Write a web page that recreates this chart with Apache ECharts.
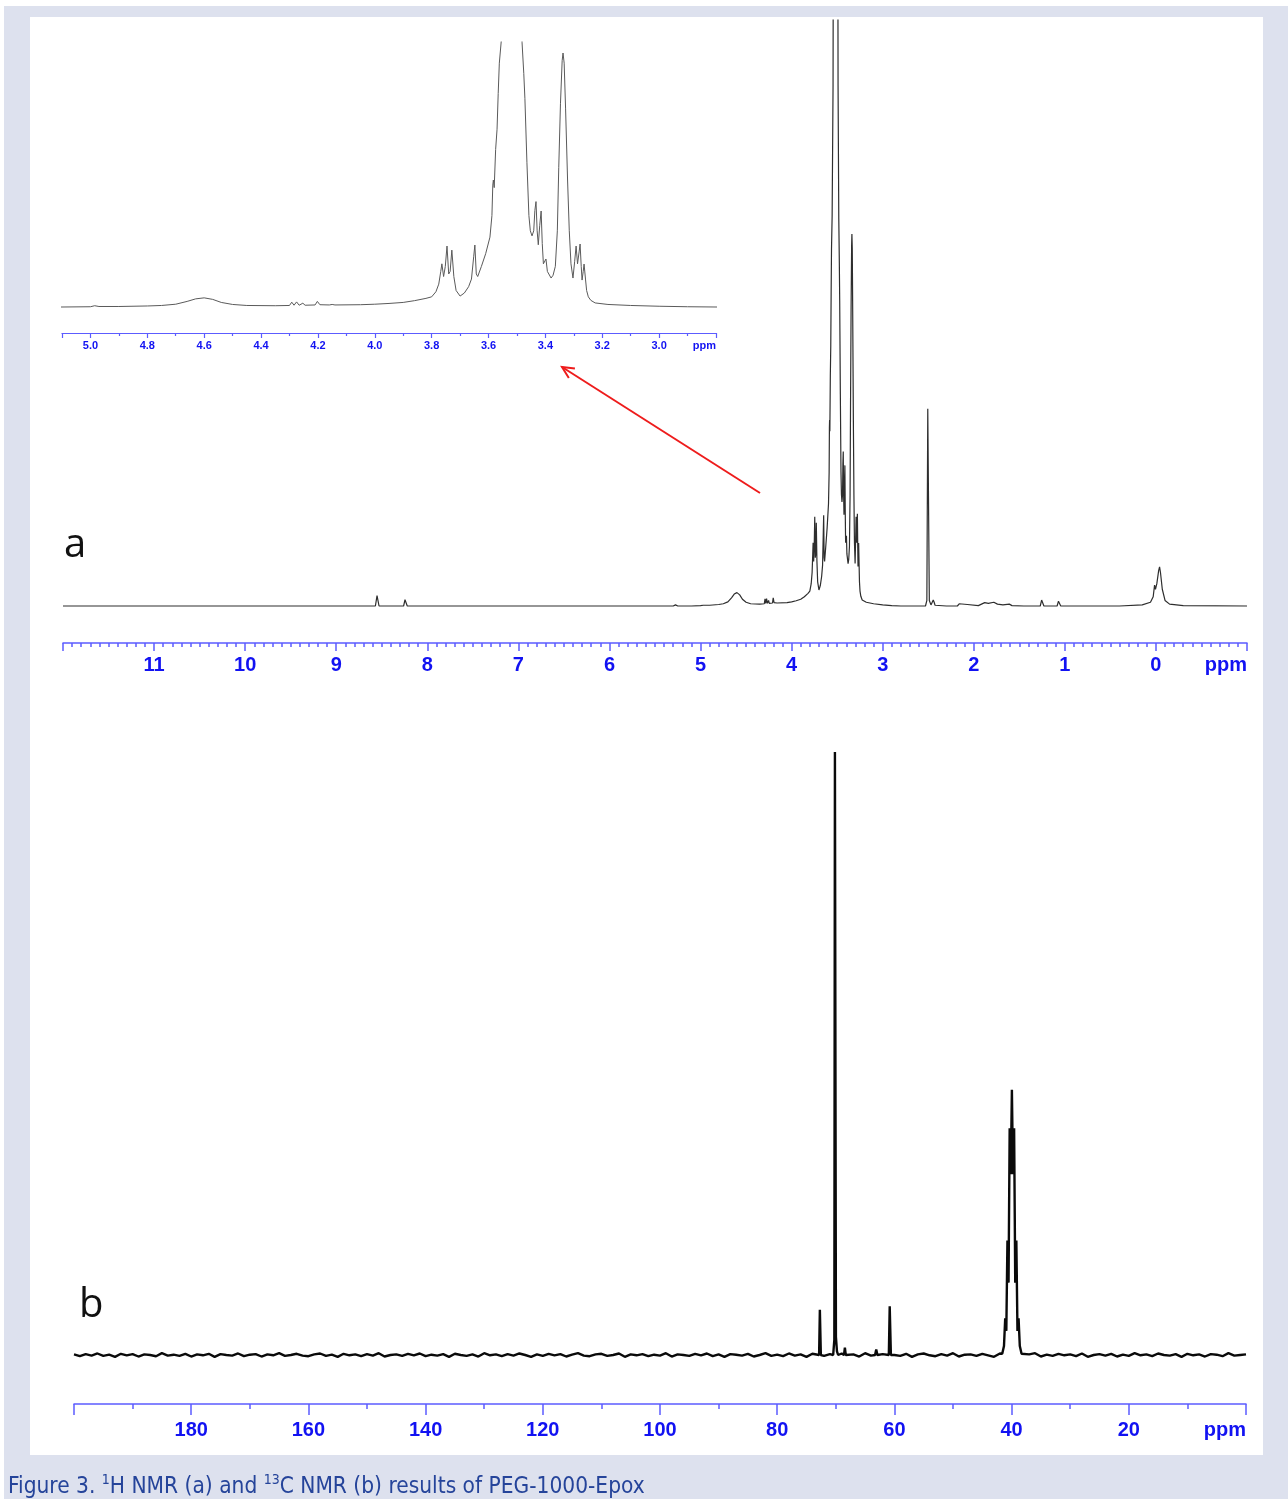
<!DOCTYPE html>
<html>
<head>
<meta charset="utf-8">
<script src="https://cdn.jsdelivr.net/npm/echarts@6/dist/echarts.min.js"></script>
<style>
  html, body { margin: 0; padding: 0; overflow: hidden; background: #ffffff; }
  #frame { position: absolute; left: 4px; top: 6px; width: 1284px; height: 1493px; background: #dde1ee; }
  #panel { position: absolute; left: 30px; top: 17px; width: 1233px; height: 1438px; background: #ffffff; }
  #chart { position: absolute; left: 0; top: 0; width: 1288px; height: 1499px; }
</style>
</head>
<body>
<div id="frame"></div>
<div id="panel"></div>
<div id="chart"></div>
<script>
// 1H spectrum, [shift ppm, relative intensity], 3.34 ppm peak = 100
const hSpectrum = [
  [12.0, 0], [10.0, 0], [9.59, 0], [9.575, 0.5], [9.56, 0],
  [8.57, 0], [8.552, 2.8], [8.545, 2.8], [8.53, 0],
  [8.26, 0], [8.245, 1.7], [8.235, 1.7], [8.22, 0],
  [7.0, 0], [5.3, 0], [5.275, 0.3], [5.25, 0],
  [5.10, 0], [5.0, 0.1], [4.985, 0.5], [4.97, 0.2], [4.90, 0.2], [4.80, 0.4], [4.75, 0.6],
  [4.70, 1.1], [4.66, 2.2], [4.63, 3.2], [4.60, 3.6], [4.57, 3.0], [4.54, 1.8], [4.50, 1.0],
  [4.45, 0.6], [4.35, 0.5],
  [4.30, 0.6], [4.292, 1.9], [4.284, 0.7], [4.275, 2.0], [4.266, 0.7], [4.253, 1.5], [4.245, 0.7],
  [4.21, 0.8], [4.202, 2.2], [4.193, 0.9], [4.16, 0.8], [4.15, 1.0], [4.14, 0.8],
  [4.05, 0.9], [4.0, 1.1], [3.95, 1.4], [3.90, 1.8], [3.86, 2.5], [3.82, 3.4], [3.80, 4.0],
  [3.785, 6.0], [3.775, 9.0], [3.768, 14], [3.764, 17], [3.758, 12], [3.752, 16], [3.746, 24],
  [3.740, 13], [3.735, 14], [3.729, 22.4], [3.722, 12], [3.714, 6.5], [3.70, 4.3], [3.685, 5.5],
  [3.67, 8], [3.66, 11], [3.652, 20], [3.648, 24.4], [3.643, 13], [3.638, 12],
  [3.625, 16], [3.61, 21], [3.595, 27.5], [3.588, 36], [3.585, 48], [3.583, 50], [3.580, 47],
  [3.575, 62], [3.570, 70], [3.566, 84], [3.562, 96], [3.555, 105], [3.545, 140], [3.535, 300],
  [3.52, 3000], [3.50, 300], [3.49, 140], [3.482, 104], [3.476, 92], [3.472, 82], [3.465, 57],
  [3.458, 36], [3.453, 30], [3.447, 28], [3.441, 30], [3.437, 38], [3.433, 41.5], [3.429, 30],
  [3.425, 24.5], [3.420, 32], [3.415, 37.8], [3.411, 25], [3.407, 17], [3.402, 17.5], [3.398, 18.9],
  [3.393, 14], [3.389, 14.5], [3.386, 14], [3.38, 11.4], [3.373, 12.5], [3.365, 16], [3.358, 30],
  [3.353, 55], [3.347, 80], [3.341, 97], [3.338, 100], [3.334, 96], [3.329, 78], [3.322, 50],
  [3.316, 30], [3.31, 17], [3.303, 11.4], [3.297, 18], [3.292, 24], [3.287, 17], [3.285, 17],
  [3.281, 22], [3.278, 24.8], [3.274, 16], [3.271, 10.6], [3.267, 14], [3.264, 16.9], [3.259, 11],
  [3.255, 6.5], [3.249, 4.0], [3.24, 2.6], [3.225, 1.6], [3.18, 1.0], [3.10, 0.6], [3.0, 0.3],
  [2.9, 0.1], [2.8, 0],
  [2.7, 0], [2.53, 0], [2.515, 1.5], [2.505, 53], [2.498, 53], [2.488, 1.5], [2.47, 0.3],
  [2.445, 1.6], [2.435, 1.0], [2.425, 0.2], [2.3, 0], [2.18, 0], [2.16, 0.6], [2.14, 0.1],
  [2.07, 0.4], [2.05, 0.1], [1.95, 0.1], [1.88, 0.9], [1.84, 0.7], [1.78, 1.0], [1.74, 0.5],
  [1.68, 0.3], [1.61, 0.5], [1.58, 0.1], [1.45, 0], [1.27, 0], [1.255, 1.6], [1.245, 1.6],
  [1.23, 0], [1.085, 0], [1.07, 1.3], [1.06, 1.2], [1.045, 0],
  [0.4, 0], [0.15, 0.3], [0.06, 1.0], [0.03, 2.5], [0.015, 5.6], [0.005, 4.5], [-0.01, 6],
  [-0.03, 9.5], [-0.04, 10.5], [-0.05, 9], [-0.07, 4.5], [-0.10, 1.5], [-0.15, 0.5],
  [-0.3, 0.1], [-1.0, 0]
];

// 13C baseline read at every 1 ppm from 200 down to 0
const cNoise = [
  0.1, -0.2, 0.15, -0.1, 0.25, -0.15, 0.05, -0.3, 0.2, -0.05,
  0.15, -0.25, 0.1, 0.0, -0.2, 0.3, -0.1, 0.05, -0.15, 0.2,
  -0.25, 0.1, -0.05, 0.2, -0.3, 0.15, 0.0, -0.1, 0.25, -0.2,
  0.05, 0.15, -0.25, 0.1, -0.05, 0.3, -0.15, 0.0, 0.2, -0.1,
  -0.2, 0.1, 0.25, -0.15, 0.05, -0.3, 0.2, -0.05, 0.1, -0.2,
  0.15, -0.1, 0.3, -0.25, 0.0, 0.1, -0.15, 0.2, -0.05, 0.25,
  -0.2, 0.05, -0.1, 0.15, -0.3, 0.2, 0.0, -0.15, 0.1, -0.25,
  0.3, -0.05, 0.1, -0.2, 0.15, -0.1, 0.25, 0.0, -0.3, 0.1,
  -0.15, 0.2, -0.05, 0.15, -0.25, 0.05, 0.3, -0.1, -0.2, 0.1,
  0.2, -0.15, 0.0, 0.25, -0.3, 0.1, -0.05, 0.15, -0.2, 0.05,
  -0.1, 0.3, -0.25, 0.1, 0.0, -0.15, 0.2, -0.05, 0.25, -0.2,
  0.1, -0.3, 0.15, 0.05, -0.1, 0.2, -0.25, 0.0, 0.3, -0.15,
  0.05, -0.2, 0.25, -0.1, 0.1, -0.3, 0.2, 0.0, -0.15, 0.15,
  -0.05, 0.25, -0.2, 0.1, -0.25, 0.3, -0.1, 0.05, 0.15, -0.2,
  0.0, -0.15, 0.2, -0.3, 0.1, 0.25, -0.05, -0.2, 0.15, -0.1,
  0.3, -0.25, 0.05, 0.1, -0.15, 0.2, -0.05, -0.3, 0.25, 0.0,
  -0.1, 0.15, -0.2, 0.1, 0.3, -0.25, 0.05, -0.15, 0.2, -0.05,
  0.1, -0.2, 0.25, -0.3, 0.0, 0.15, -0.1, 0.2, -0.25, 0.05,
  -0.15, 0.3, -0.05, 0.1, -0.2, 0.25, 0.0, -0.1, 0.15, -0.3,
  0.2, -0.05, 0.1, -0.25, 0.15, 0.05, -0.2, 0.3, -0.1, 0.0,
  0.1
];

// 13C peaks, [shift ppm, relative intensity], 70.1 ppm peak = 100
const cPeaks = [
  [[72.85, 0], [72.72, 7.5], [72.65, 7.5], [72.55, 0]],
  [[70.45, 0], [70.25, 2.5], [70.15, 100], [70.1, 100], [69.98, 3], [69.8, 0.6], [69.6, 0]],
  [[68.6, 0], [68.45, 1.2], [68.3, 0]],
  [[63.3, 0], [63.1, 0.9], [62.9, 0]],
  [[60.95, 0], [60.8, 8.1], [60.72, 8.1], [60.6, 0]],
  [[41.6, 0.2], [41.3, 1.5], [41.09, 6.1], [40.9, 4], [40.71, 19], [40.52, 12], [40.33, 37.6],
   [40.14, 30], [39.95, 44], [39.76, 30], [39.57, 37.6], [39.38, 12], [39.19, 19], [39.0, 4],
   [38.81, 6.1], [38.6, 1.5], [38.3, 0.2]]
];

const hInsetTicks = { min: 2.8, max: 5.1, step: 0.2 };
const hMainTicks = { min: -1, max: 12, step: 1 };
const cTicks = { min: 0, max: 200, step: 20 };

// build 13C trace: baseline + peak groups
const cSpectrum = (() => {
  const pts = [];
  cNoise.forEach((v, i) => {
    const ppm = 200 - i;
    const inPeak = cPeaks.some(g => ppm <= g[0][0] + 0.3 && ppm >= g[g.length - 1][0] - 0.3);
    if (!inPeak) pts.push([ppm, v]);
  });
  cPeaks.forEach(g => g.forEach(p => pts.push(p)));
  pts.sort((a, b) => b[0] - a[0]);
  return pts;
})();

// pixel layout
const inset = { left: 62, right: 716, top: 42, axis: 333, base: 307, pxPerUnit: 2.54 };
const main = { left: 63, right: 1247, top: 20, axis: 643, base: 606, pxPerUnit: 3.72 };
const carb = { left: 74, right: 1246, top: 740, axis: 1404, base: 1355, pxPerUnit: 6.03 };

function gridOf(l) {
  return { left: l.left, width: l.right - l.left, top: l.top, height: l.axis - l.top };
}
function yOf(l, idx) {
  return {
    gridIndex: idx, type: 'value', show: false,
    min: -(l.axis - l.base) / l.pxPerUnit,
    max: (l.base - l.top) / l.pxPerUnit
  };
}

const blueLine = '#5c5cff';
const blueText = '#1212f2';
const labelFont = "'Liberation Sans', Arial, sans-serif";

function xOf(idx, t, o) {
  const near = (a, b) => Math.abs(a - b) < 1e-6;
  return {
    gridIndex: idx, type: 'value', inverse: true,
    min: t.min, max: t.max, interval: t.step,
    splitLine: { show: false },
    axisLine: { onZero: false, lineStyle: { color: blueLine, width: o.lineW } },
    axisTick: { show: true, length: o.tick, lineStyle: { color: blueLine, width: o.lineW } },
    minorTick: { show: true, splitNumber: o.minor, length: o.minorLen, lineStyle: { color: blueLine, width: o.lineW } },
    axisLabel: {
      color: blueText, fontFamily: labelFont, fontWeight: 'bold', fontSize: o.font,
      margin: o.margin, showMinLabel: true, showMaxLabel: true, alignMinLabel: 'right',
      formatter: v => near(v, t.min) ? 'ppm' : (near(v, t.max) ? '' : v.toFixed(o.dec))
    }
  };
}

const chart = echarts.init(document.getElementById('chart'), null, { renderer: 'canvas' });

// arrow geometry (annotation)
const tail = [760, 493], head = [562, 367];
const dx = head[0] - tail[0], dy = head[1] - tail[1];
const len = Math.hypot(dx, dy), ux = dx / len, uy = dy / len;
const wing = 13, ang = 0.45;
const w1 = [head[0] - wing * (ux * Math.cos(ang) - uy * Math.sin(ang)), head[1] - wing * (uy * Math.cos(ang) + ux * Math.sin(ang))];
const w2 = [head[0] - wing * (ux * Math.cos(-ang) - uy * Math.sin(-ang)), head[1] - wing * (uy * Math.cos(-ang) + ux * Math.sin(-ang))];

const capFont = "'Liberation Sans Narrow', 'DejaVu Sans Condensed', sans-serif";

chart.setOption({
  animation: false,
  backgroundColor: 'transparent',
  grid: [gridOf(inset), gridOf(main), gridOf(carb)],
  xAxis: [
    xOf(0, hInsetTicks, { lineW: 1.2, tick: 5, minor: 2, minorLen: 3, font: 11, margin: 7, dec: 1 }),
    xOf(1, hMainTicks, { lineW: 1.5, tick: 8, minor: 10, minorLen: 4, font: 20, margin: 12, dec: 0 }),
    xOf(2, cTicks, { lineW: 1.5, tick: 11, minor: 2, minorLen: 5, font: 20, margin: 16, dec: 0 })
  ],
  yAxis: [yOf(inset, 0), yOf(main, 1), yOf(carb, 2)],
  series: [
    {
      type: 'line', xAxisIndex: 0, yAxisIndex: 0, data: hSpectrum,
      showSymbol: false, silent: true, sampling: 'none',
      lineStyle: { color: '#5a5a5a', width: 1 }
    },
    {
      type: 'line', xAxisIndex: 1, yAxisIndex: 1, data: hSpectrum,
      showSymbol: false, silent: true,
      lineStyle: { color: '#2e2e2e', width: 1.2 }
    },
    {
      type: 'line', xAxisIndex: 2, yAxisIndex: 2, data: cSpectrum,
      showSymbol: false, silent: true,
      lineStyle: { color: '#0a0a0a', width: 2.4 }
    }
  ],
  graphic: [
    { type: 'line', z: 100, shape: { x1: tail[0], y1: tail[1], x2: head[0], y2: head[1] }, style: { stroke: '#ee1c1c', lineWidth: 2 } },
    { type: 'polyline', z: 100, shape: { points: [w1, head, w2] }, style: { stroke: '#ee1c1c', lineWidth: 2, fill: null } },
    { type: 'text', z: 100, left: 64, top: 526, style: { text: 'a', fontSize: 40, fontFamily: "'Open Sans', sans-serif", fill: '#111' } },
    { type: 'text', z: 100, left: 79, top: 1286, style: { text: 'b', fontSize: 40, fontFamily: "'Open Sans', sans-serif", fill: '#111' } },
    {
      type: 'text', z: 100, left: 8, top: 1473,
      style: {
        text: '{n|Figure 3. }{s|1}{n|H NMR (a) and }{s|13}{n|C NMR (b) results of PEG-1000-Epox}',
        fill: '#25449a',
        rich: {
          n: { fontSize: 22.5, fontFamily: capFont, color: '#25449a', lineHeight: 26, verticalAlign: 'bottom' },
          s: { fontSize: 14, fontFamily: capFont, color: '#25449a', lineHeight: 15, verticalAlign: 'top' }
        }
      }
    }
  ]
});
</script>
</body>
</html>
